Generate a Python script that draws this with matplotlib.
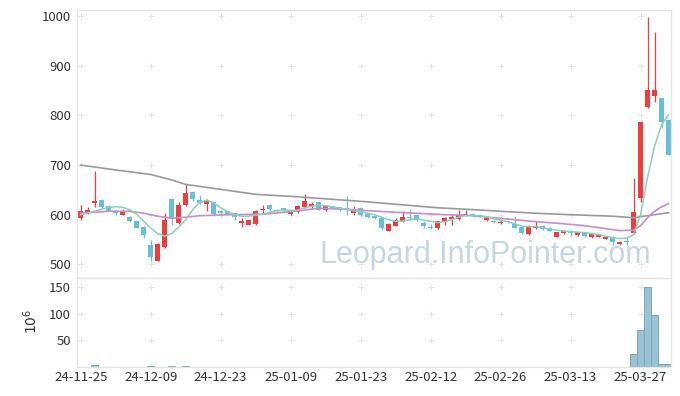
import numpy as np
import matplotlib
matplotlib.use('Agg')
import matplotlib.pyplot as plt

plt.rcParams['font.family'] = ['Noto Sans CJK KR', 'DejaVu Sans']

# daily candles, 24-11-25 .. 25-04-02 (trading days)
opens = [593, 605, 623, 630, 617, 605, 600, 595, 588, 576,
         539, 507, 536, 632, 583, 619, 646, 630, 622, 625,
         607, 607, 603, 584, 580, 581, 610, 620, 610, 613,
         601, 605, 616, 617, 625, 610, 617, 615, 614, 604,
         614, 601, 598, 593, 568, 578, 587, 595, 600, 584,
         576, 573, 585, 591, 592, 599, 602, 600, 590, 588,
         583, 588, 581, 576, 561, 573, 578, 574, 556, 563,
         568, 559, 563, 556, 556, 552, 556, 541, 546, 564,
         633, 817, 838, 834, 790]
highs = [620, 615, 687, 631, 620, 610, 611, 597, 590, 578,
         549, 543, 603, 633, 625, 661, 647, 639, 632, 626,
         610, 608, 604, 593, 591, 609, 620, 621, 611, 614,
         610, 619, 641, 625, 626, 619, 618, 616, 637, 618,
         615, 603, 599, 595, 583, 593, 608, 612, 602, 588,
         581, 588, 595, 600, 610, 610, 603, 601, 597, 589,
         592, 590, 597, 577, 579, 587, 580, 575, 565, 570,
         569, 566, 564, 563, 562, 557, 558, 548, 553, 673,
         788, 997, 968, 835, 791]
lows = [590, 601, 615, 614, 607, 599, 599, 586, 573, 553,
        507, 506, 534, 580, 582, 617, 627, 622, 607, 598,
        600, 599, 590, 575, 579, 580, 603, 607, 606, 606,
        600, 604, 614, 614, 609, 608, 611, 608, 600, 600,
        597, 594, 592, 570, 567, 577, 585, 590, 588, 573,
        572, 572, 580, 580, 590, 597, 595, 595, 587, 584,
        582, 583, 573, 561, 560, 571, 570, 567, 555, 561,
        557, 558, 555, 554, 555, 551, 540, 540, 540, 562,
        626, 815, 827, 774, 720]
closes = [608, 609, 628, 616, 608, 603, 605, 588, 574, 560,
          514, 541, 590, 592, 619, 644, 632, 624, 629, 602,
          603, 601, 595, 588, 590, 608, 611, 612, 607, 607,
          609, 618, 627, 622, 610, 617, 612, 610, 609, 612,
          599, 596, 593, 574, 582, 589, 596, 593, 589, 578,
          573, 588, 593, 595, 600, 602, 597, 597, 593, 585,
          584, 585, 574, 564, 578, 578, 571, 568, 565, 568,
          563, 565, 558, 561, 561, 556, 545, 546, 545, 606,
          787, 851, 851, 787, 720]

# volume in millions
volume = [0.4, 0.5, 4.3, 0.6, 0.4, 0.3, 0.3, 0.4, 0.4, 0.5,
          2.0, 0.8, 0.9, 2.0, 0.8, 2.0, 0.7, 0.5, 0.5, 0.4,
          0.3, 0.3, 0.3, 0.3, 0.3, 0.4, 0.3, 0.3, 0.3, 0.3,
          0.3, 0.3, 0.4, 0.3, 0.3, 0.3, 0.3, 0.3, 0.4, 0.3,
          0.3, 0.3, 0.3, 0.3, 0.3, 0.3, 0.3, 0.3, 0.3, 0.3,
          0.3, 0.3, 0.3, 0.3, 0.3, 0.3, 0.3, 0.3, 0.3, 0.3,
          0.3, 0.3, 0.3, 0.3, 0.3, 0.3, 0.3, 0.3, 0.3, 0.3,
          0.3, 0.3, 0.3, 0.3, 0.3, 0.3, 0.4, 0.3, 0.3, 24,
          70, 150, 98, 5.5, 5.5]

# moving averages
ma5 = [600, 603, 607, 611, 615, 616, 615, 610, 601, 587,
       573, 562, 557, 562, 575, 590, 610, 625, 629, 624,
       614, 606, 601, 597, 597, 599, 601, 605, 608, 609,
       609, 609, 614, 617, 619, 618, 616, 613, 611, 608,
       606, 603, 600, 595, 590, 587, 587, 590, 592, 589,
       587, 584, 586, 590, 595, 598, 599, 598, 596, 592,
       589, 586, 582, 577, 576, 576, 574, 571, 569, 567,
       566, 565, 564, 562, 560, 557, 554, 552, 553, 560,
       600, 676, 738, 781, 801]
ma20_idx = [0, 4, 7, 9, 11, 13, 15, 17, 21, 26, 30, 34, 38, 41, 45, 48,
            52, 55, 59, 62, 65, 68, 72, 75, 77, 79, 80, 81, 82, 83, 84]
ma20 = [603, 607, 607, 603, 597, 593, 595, 598, 600, 601, 606, 613, 611,
        608, 605, 603, 600, 599, 594, 590, 586, 583, 578, 572, 568, 569,
        578, 594, 607, 616, 622]
ma60_idx = [0, 5, 10, 13, 15, 20, 25, 30, 34, 40, 45, 51, 55, 60, 65, 70,
            76, 79, 82, 84]
ma60 = [700, 690, 681, 670, 661, 651, 641, 637, 633, 627, 621, 614, 611,
        607, 603, 600, 597, 594, 600, 604]

tick_pos = [0, 10, 20, 30, 40, 50, 60, 70, 80]
tick_labels = ['24-11-25', '24-12-09', '24-12-23', '25-01-09', '25-01-23',
               '25-02-12', '25-02-26', '25-03-13', '25-03-27']
price_ticks = [500, 600, 700, 800, 900, 1000]
vol_ticks = [50, 100, 150]

RED = '#f03c3c'
BLUE = '#68c0d8'
GRID = '#e3e3e3'
FRAME = '#e4e4e4'

fig = plt.figure(figsize=(6.8, 3.96), dpi=100)
ax = fig.add_axes([0.1128, 0.2972, 0.8740, 0.6775])
ax2 = fig.add_axes([0.1128, 0.0725, 0.8740, 0.2247], sharex=ax)

x = np.arange(len(closes))
o = np.array(opens, dtype=float)
c = np.array(closes, dtype=float)
up = c >= o
colors = np.where(up, RED, BLUE)

ax.vlines(x, lows, highs, colors=colors, lw=0.9, zorder=2)
body_h = np.maximum(np.abs(c - o), 1.5)
ax.bar(x, body_h, bottom=np.minimum(o, c), width=0.7, color=colors, zorder=2)

ax.plot(ma60_idx, ma60, color='#9a9a9a', lw=1.2, zorder=3)
ax.plot(ma20_idx, ma20, color='#c98dc9', lw=1.2, zorder=3)
ax.plot(x, ma5, color='#8acfbf', lw=1.1, zorder=3)

ax2.bar(x, volume, width=1.0, color='#9cc3d3', edgecolor='#78a8be', lw=0.7, zorder=1)

# "+" marks at grid crossings
for a, yt in ((ax, price_ticks), (ax2, vol_ticks)):
    gx, gy = np.meshgrid(tick_pos, yt)
    a.plot(gx.ravel(), gy.ravel(), '+', color=GRID, ms=4, mew=0.7, zorder=0)
    for s in a.spines.values():
        s.set_color(FRAME)
        s.set_linewidth(0.9)
    a.tick_params(length=0, colors='#333333', labelsize=9.5)
    a.set_yticks(yt)

ax.set_xlim(-0.57, 84.35)
ax.set_ylim(472, 1012)
ax2.set_ylim(0, 166)
ax2.set_xticks(tick_pos)
ax2.set_xticklabels(tick_labels)
ax.tick_params(axis='x', labelbottom=False)
ax.tick_params(axis='y', pad=4)
ax2.tick_params(axis='y', pad=4)
ax2.tick_params(axis='x', pad=3)

ax2.set_ylabel(r'$10^6$', fontsize=10, color='#333333')
ax2.yaxis.set_label_coords(-0.062, 0.52)

fig.text(320 / 680, 133 / 396, 'Leopard.InfoPointer.com', family='Liberation Sans',
         fontsize=22, color='#c6d7e3', va='baseline', ha='left')

fig.savefig('out.png', dpi=100)
